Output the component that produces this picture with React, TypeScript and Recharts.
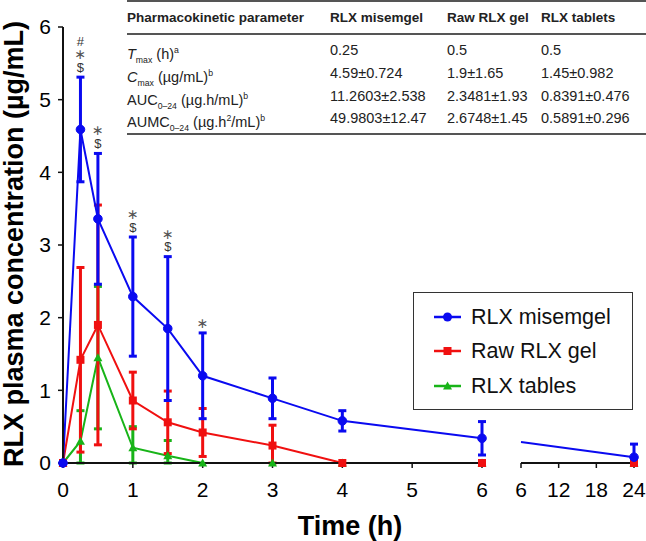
import React from "react";
import { LineChart, Line, XAxis, YAxis, ErrorBar, LabelList } from "recharts";

// ---- data ----
const times = [0, 0.25, 0.5, 1, 1.5, 2, 3, 4, 6];
const misemgel = [0, 4.59, 3.36, 2.29, 1.85, 1.2, 0.89, 0.58, 0.34];
const misemgelSD = [0, 0.72, 0.9, 0.82, 0.99, 0.59, 0.28, 0.14, 0.23];
const rawGel = [0, 1.42, 1.9, 0.86, 0.56, 0.42, 0.24, 0, 0];
const rawGelSD = [0, 1.27, 1.65, 0.39, 0.43, 0.33, 0.28, 0, 0];
const tablets = [0, 0.3, 1.45, 0.21, 0.1, 0, 0, 0, 0];
const tabletsSD = [0, 0.42, 0.98, 0.29, 0.21, 0, 0, 0, 0];
// significance marks above misemgel error bars (top to bottom)
const marks = ["", "#*$", "*$", "*$", "*$", "*", "", "", ""];

const lateTimes = [6, 24];
const lateMisemgel = [0.29, 0.08];
const lateMisemgelSD = [0, 0.18];
const lateRawGel = [0, 0];
const lateTablets = [0, 0];
const lateShowDot = [false, true];

const earlyTicks = [0, 1, 2, 3, 4, 5, 6];
const lateTicks = [6, 12, 18, 24];
const yTicks = [0, 1, 2, 3, 4, 5, 6];

const seriesNames = ["RLX misemgel", "Raw RLX gel", "RLX tables"];

const tableHeader = ["Pharmacokinetic parameter", "RLX misemgel", "Raw RLX gel", "RLX tablets"];
const tableParams = [
  { main: "T", italic: true, sub: "max", rest: " (h)", sup: "a" },
  { main: "C", italic: true, sub: "max", rest: " (\u00b5g/mL)", sup: "b" },
  { main: "AUC", italic: false, sub: "0\u201324", rest: " (\u00b5g.h/mL)", sup: "b" },
  { main: "AUMC", italic: false, sub: "0\u201324", rest: " (\u00b5g.h", sup2: "2", rest2: "/mL)", sup: "b" },
];
const tableMisemgel = ["0.25", "4.59\u00b10.724", "11.2603\u00b12.538", "49.9803\u00b112.47"];
const tableRawGel = ["0.5", "1.9\u00b11.65", "2.3481\u00b11.93", "2.6748\u00b11.45"];
const tableTablets = ["0.5", "1.45\u00b10.982", "0.8391\u00b10.476", "0.5891\u00b10.296"];

// ---- styling ----
const FONT = '"Liberation Sans", Arial, Helvetica, sans-serif';
const BLUE = "#0A0AF0";
const RED = "#F01010";
const GREEN = "#18B418";
const colors = [BLUE, RED, GREEN];

const errPair = (v: number, sd: number) => (sd ? [Math.min(v, sd), sd] : null);

const earlyData = times.map((t, i) => ({
  t,
  mis: misemgel[i],
  misErr: errPair(misemgel[i], misemgelSD[i]),
  raw: rawGel[i],
  rawErr: errPair(rawGel[i], rawGelSD[i]),
  tab: tablets[i],
  tabErr: errPair(tablets[i], tabletsSD[i]),
  markTop: marks[i] ? misemgel[i] + misemgelSD[i] : null,
  marks: marks[i],
}));

const lateData = lateTimes.map((t, i) => ({
  t,
  mis: lateMisemgel[i],
  misErr: errPair(lateMisemgel[i], lateMisemgelSD[i]),
  raw: lateRawGel[i],
  tab: lateTablets[i],
  showDot: lateShowDot[i],
}));

const circleDot = (color: string) => (p: any) => {
  if (p.cx == null || p.cy == null || (p.payload && p.payload.showDot === false))
    return <g key={`c-${p.index}`} />;
  return <circle key={`c-${p.index}`} cx={p.cx} cy={p.cy} r={4.3} fill={color} stroke={color} />;
};
const squareDot = (color: string) => (p: any) => {
  if (p.cx == null || p.cy == null || (p.payload && p.payload.showDot === false))
    return <g key={`s-${p.index}`} />;
  return <rect key={`s-${p.index}`} x={p.cx - 4} y={p.cy - 4} width={8} height={8} fill={color} />;
};
const triDot = (color: string) => (p: any) => {
  if (p.cx == null || p.cy == null || (p.payload && p.payload.showDot === false))
    return <g key={`t-${p.index}`} />;
  const s = 4.5;
  return (
    <path
      key={`t-${p.index}`}
      d={`M${p.cx},${p.cy - s} L${p.cx + s},${p.cy + s * 0.8} L${p.cx - s},${p.cy + s * 0.8} Z`}
      fill={color}
    />
  );
};

const renderMarks = (p: any) => {
  const str: string = p.value || "";
  if (!str || p.x == null || p.y == null) return null;
  const syms = str.split("").reverse();
  return (
    <g>
      {syms.map((s, i) => (
        <text
          key={i}
          x={p.x}
          y={p.y - 10 - 13 * i}
          textAnchor="middle"
          dominantBaseline="central"
          fontFamily={s === "*" ? '"DejaVu Sans", sans-serif' : FONT}
          fontSize={s === "*" ? 14 : 13}
          fill={s === "*" ? "#555" : "#333"}
        >
          {s === "*" ? "\u2217" : s}
        </text>
      ))}
    </g>
  );
};

const tickStyle = { fontSize: 21, fill: "#000", fontFamily: FONT };
const axisLineStyle = { stroke: "#111", strokeWidth: 2 };
const tickLineStyle = { stroke: "#111", strokeWidth: 1.5 };

const Param = ({ p }: { p: any }) => (
  <span>
    <span style={{ fontStyle: p.italic ? "italic" : "normal" }}>{p.main}</span>
    <sub style={{ fontSize: "0.6em" }}>{p.sub}</sub>
    {p.rest}
    {p.sup2 ? <sup style={{ fontSize: "0.6em" }}>{p.sup2}</sup> : null}
    {p.rest2 || ""}
    <sup style={{ fontSize: "0.6em" }}>{p.sup}</sup>
  </span>
);

const colLeft = [127, 330, 447, 541];
const headerY = 18;
const rowYs = [50, 73, 96, 118];

const Table = () => {
  const cell = (left: number, cy: number, content: React.ReactNode, bold = false, key?: string) => (
    <div
      key={key}
      style={{
        position: "absolute",
        left,
        top: cy - 10,
        height: 20,
        lineHeight: "20px",
        whiteSpace: "nowrap",
        fontFamily: FONT,
        fontSize: bold ? 13.5 : 14.5,
        fontWeight: bold ? "bold" : "normal",
        color: "#222",
      }}
    >
      {content}
    </div>
  );
  const rule = (top: number, h: number, key: string) => (
    <div key={key} style={{ position: "absolute", left: 127, top, width: 519, height: h, background: "#555" }} />
  );
  return (
    <>
      {rule(0, 2, "r0")}
      {rule(33, 1.5, "r1")}
      {rule(133, 2, "r2")}
      {tableHeader.map((h, i) => cell(colLeft[i], headerY, h, true, `h${i}`))}
      {tableParams.map((p, r) => cell(colLeft[0], rowYs[r], <Param p={p} />, false, `p${r}`))}
      {tableMisemgel.map((v, r) => cell(colLeft[1], rowYs[r], v, false, `a${r}`))}
      {tableRawGel.map((v, r) => cell(colLeft[2], rowYs[r], v, false, `b${r}`))}
      {tableTablets.map((v, r) => cell(colLeft[3], rowYs[r], v, false, `c${r}`))}
    </>
  );
};

const LegendIcon = ({ idx }: { idx: number }) => {
  const c = colors[idx];
  return (
    <svg width={28} height={14} style={{ position: "absolute", left: 20, top: -7 }}>
      <line x1={0} y1={7} x2={27} y2={7} stroke={c} strokeWidth={2.5} />
      {idx === 0 && <circle cx={13.5} cy={7} r={4.5} fill={c} />}
      {idx === 1 && <rect x={9.5} y={3} width={8} height={8} fill={c} />}
      {idx === 2 && <path d="M13.5,2.5 L18,10.6 L9,10.6 Z" fill={c} />}
    </svg>
  );
};

const Legend = () => {
  const rows = [25, 59, 94];
  return (
    <div
      style={{
        position: "absolute",
        left: 413,
        top: 292,
        width: 220,
        height: 118,
        border: "1.5px solid #333",
        boxSizing: "border-box",
        background: "#fff",
      }}
    >
      {seriesNames.map((n, i) => (
        <div key={n} style={{ position: "absolute", left: 0, top: rows[i] - 1.5 }}>
          <LegendIcon idx={i} />
          <div
            style={{
              position: "absolute",
              left: 57,
              top: -13,
              height: 26,
              lineHeight: "26px",
              whiteSpace: "nowrap",
              fontFamily: FONT,
              fontSize: 21.5,
              color: "#111",
            }}
          >
            {n}
          </div>
        </div>
      ))}
    </div>
  );
};

export default function App() {
  return (
    <div style={{ position: "absolute", left: 0, top: 0, width: 646, height: 541, background: "#fff", overflow: "hidden" }}>
      <Table />
      <div style={{ position: "absolute", left: 0, top: 0 }}>
        <LineChart width={495} height={541} data={earlyData} margin={{ top: 27, right: 13, bottom: 38, left: 0 }}>
          <XAxis
            dataKey="t"
            type="number"
            domain={[0, 6]}
            ticks={earlyTicks}
            interval={0}
            height={40}
            tick={tickStyle}
            tickSize={5}
            tickMargin={14}
            axisLine={axisLineStyle}
            tickLine={tickLineStyle}
          />
          <YAxis
            type="number"
            domain={[0, 6]}
            ticks={yTicks}
            interval={0}
            width={63}
            tick={tickStyle}
            tickSize={5}
            tickMargin={7}
            axisLine={axisLineStyle}
            tickLine={tickLineStyle}
          />
          <Line dataKey="tab" stroke={GREEN} strokeWidth={2} dot={triDot(GREEN)} activeDot={false} isAnimationActive={false}>
            <ErrorBar dataKey="tabErr" width={4} strokeWidth={3} stroke={GREEN} direction="y" />
          </Line>
          <Line dataKey="raw" stroke={RED} strokeWidth={2} dot={squareDot(RED)} activeDot={false} isAnimationActive={false}>
            <ErrorBar dataKey="rawErr" width={4} strokeWidth={3} stroke={RED} direction="y" />
          </Line>
          <Line dataKey="mis" stroke={BLUE} strokeWidth={2} dot={circleDot(BLUE)} activeDot={false} isAnimationActive={false}>
            <ErrorBar dataKey="misErr" width={4} strokeWidth={3} stroke={BLUE} direction="y" />
          </Line>
          <Line dataKey="markTop" stroke="none" dot={false} activeDot={false} isAnimationActive={false} legendType="none">
            <LabelList dataKey="marks" content={renderMarks} />
          </Line>
        </LineChart>
      </div>
      <div style={{ position: "absolute", left: 0, top: 0 }}>
        <LineChart width={646} height={541} data={lateData} margin={{ top: 27, right: 12, bottom: 38, left: 521 }}>
          <XAxis
            dataKey="t"
            type="number"
            domain={[6, 24]}
            ticks={lateTicks}
            interval={0}
            height={40}
            tick={tickStyle}
            tickSize={5}
            tickMargin={14}
            axisLine={axisLineStyle}
            tickLine={tickLineStyle}
          />
          <YAxis type="number" domain={[0, 6]} hide width={0} />
          <Line dataKey="tab" stroke={GREEN} strokeWidth={2} dot={triDot(GREEN)} activeDot={false} isAnimationActive={false} />
          <Line dataKey="raw" stroke={RED} strokeWidth={2} dot={squareDot(RED)} activeDot={false} isAnimationActive={false} />
          <Line dataKey="mis" stroke={BLUE} strokeWidth={2} dot={circleDot(BLUE)} activeDot={false} isAnimationActive={false}>
            <ErrorBar dataKey="misErr" width={4} strokeWidth={3} stroke={BLUE} direction="y" />
          </Line>
        </LineChart>
      </div>
      <svg width={646} height={541} style={{ position: "absolute", left: 0, top: 0, pointerEvents: "none" }}>
        <text
          transform="translate(23,244) rotate(-90)"
          textAnchor="middle"
          fontFamily={FONT}
          fontSize={27}
          fontWeight="bold"
          fill="#000"
        >
          RLX plasma concentration (µg/mL)
        </text>
        <text x={350} y={535} textAnchor="middle" fontFamily={FONT} fontSize={27} fontWeight="bold" fill="#000">
          Time (h)
        </text>
      </svg>
      <Legend />
    </div>
  );
}
